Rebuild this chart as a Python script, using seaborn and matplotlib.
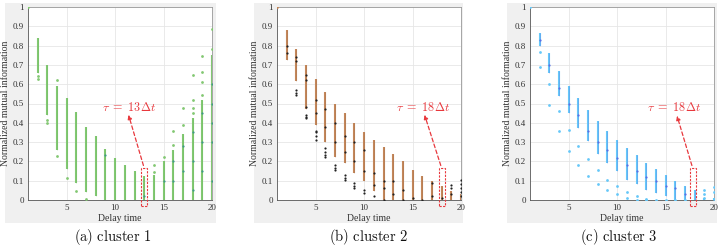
import numpy as np
import pandas as pd
import seaborn as sns
import matplotlib.pyplot as plt
from matplotlib.patches import Rectangle

# delay times for the dense strips
delays = list(range(2, 21))

# cluster 1: strip range per delay + separate dots
c1_lo = [0.66, 0.44, 0.26, 0.16, 0.09, 0.04, 0.02, 0, 0, 0, 0, 0, 0, 0, 0, 0, 0, 0, 0]
c1_hi = [0.84, 0.70, 0.59, 0.53, 0.455, 0.38, 0.33, 0.265, 0.22, 0.183, 0.15, 0.122,
         0.13, 0.20, 0.26, 0.34, 0.425, 0.52, 0.75]
c1_dot_x = [1, 2, 2, 3, 3, 4, 4, 5, 6, 7, 14, 14, 15, 16, 16, 17, 17, 18, 18, 18, 18,
            19, 19, 19, 19, 20, 20]
c1_dot_y = [1.0, 0.625, 0.64, 0.415, 0.40, 0.62, 0.23, 0.115, 0.045, 0.005, 0.18, 0.145,
            0.225, 0.355, 0.285, 0.475, 0.39, 0.65, 0.52, 0.475, 0.45,
            0.745, 0.665, 0.61, 0.545, 0.886, 0.78]
c1_dark_x = [9, 13, 15, 16, 16, 17, 17, 18, 18, 18, 19, 19, 19, 20, 20, 20, 20, 20]
c1_dark_y = [0.235, 0.02, 0.10, 0.20, 0.10, 0.28, 0.15, 0.35, 0.20, 0.05, 0.45, 0.30,
             0.15, 0.60, 0.50, 0.40, 0.30, 0.10]

# cluster 2
c2_lo = [0.727, 0.615, 0.47, 0.39, 0.30, 0.225, 0.19, 0.14, 0.097, 0.045, 0, 0, 0, 0, 0,
         0, 0, 0, 0]
c2_hi = [0.883, 0.78, 0.70, 0.627, 0.56, 0.50, 0.45, 0.40, 0.352, 0.31, 0.275, 0.238,
         0.20, 0.157, 0.122, 0.10, 0.07, 0.045, 0.03]
c2_dot_x = [1]
c2_dot_y = [1.0]
c2_dark_x = [2, 2, 3, 3, 3, 3, 3, 4, 4, 4, 4, 4, 4, 5, 5, 5, 5, 5, 5, 6, 6, 6, 6, 6, 6,
             7, 7, 7, 7, 7, 8, 8, 8, 8, 8, 9, 9, 9, 9, 9, 10, 10, 10, 10, 11, 11, 11,
             12, 12, 12, 13, 13, 14, 14, 15, 16, 17, 17, 18, 19, 19, 19,
             20, 20, 20, 20, 20]
c2_dark_y = [0.80, 0.76, 0.57, 0.555, 0.545, 0.74, 0.72, 0.48, 0.44, 0.43, 0.425, 0.62,
             0.65, 0.36, 0.35, 0.33, 0.31, 0.52, 0.45, 0.27, 0.25, 0.235, 0.225, 0.38,
             0.47, 0.18, 0.165, 0.157, 0.30, 0.40, 0.13, 0.115, 0.105, 0.25, 0.33,
             0.088, 0.075, 0.062, 0.20, 0.30, 0.053, 0.036, 0.15, 0.26, 0.019, 0.08,
             0.14, 0.06, 0.0, 0.10, 0.03, 0.10, 0.0, 0.05, 0.01, 0.0, 0.09, 0.02, 0.01,
             0.076, 0.06, 0.03, 0.105, 0.085, 0.06, 0.04, 0.02]

# cluster 3
c3_lo = [0.796, 0.658, 0.537, 0.45, 0.373, 0.304, 0.24, 0.192, 0.148, 0.105, 0.083,
         0.054, 0.036, 0.02, 0, 0, 0, 0, 0]
c3_hi = [0.865, 0.76, 0.667, 0.592, 0.527, 0.468, 0.408, 0.356, 0.31, 0.268, 0.231,
         0.192, 0.16, 0.131, 0.10, 0.074, 0.05, 0.01, 0.01]
c3_dot_x = [1, 2, 2, 3, 3, 4, 4, 5, 5, 6, 6, 7, 7, 8, 8, 9, 9, 10, 10, 11, 11, 12, 12,
            13, 13, 14, 15, 16, 17, 19, 19, 19, 20, 20, 20]
c3_dot_y = [1.0, 0.765, 0.69, 0.60, 0.49, 0.463, 0.356, 0.364, 0.256, 0.278, 0.181,
            0.211, 0.123, 0.157, 0.083, 0.105, 0.05, 0.07, 0.031, 0.041, 0.012, 0.021,
            0.0, 0.005, 0.0, 0.0, 0.0, 0.0, 0.0, 0.054, 0.03, 0.01, 0.065, 0.04, 0.007]
c3_dark_x = [2, 3, 4, 5, 6, 7, 8, 9, 10, 11, 12, 13, 14, 15, 16, 17]
c3_dark_y = [0.83, 0.70, 0.58, 0.50, 0.44, 0.36, 0.30, 0.26, 0.22, 0.18, 0.15, 0.12,
             0.10, 0.07, 0.06, 0.03]

captions = ["(a)\\ cluster\\ 1", "(b)\\ cluster\\ 2", "(c)\\ cluster\\ 3"]
tau_labels = [r"$\tau\ =\ 13\Delta t$", r"$\tau\ =\ 18\Delta t$", r"$\tau\ =\ 18\Delta t$"]
tau_delay = [13, 18, 17.8]
tau_text = [(11.45, 0.48), (16.1, 0.48), (15.9, 0.48)]
tau_tip = [(11.3, 0.455), (16.15, 0.455), (16.1, 0.45)]

clusters = [
    (c1_lo, c1_hi, c1_dot_x, c1_dot_y, c1_dark_x, c1_dark_y, "#82c872", "#3f9a86", "#68b85c"),
    (c2_lo, c2_hi, c2_dot_x, c2_dot_y, c2_dark_x, c2_dark_y, "#c4875a", "#222222", "#9a6a48"),
    (c3_lo, c3_hi, c3_dot_x, c3_dot_y, c3_dark_x, c3_dark_y, "#66c8f8", "#5a70e6", "#5a70e6"),
]

sns.set_theme(style="whitegrid")
plt.rcParams["font.family"] = ["Liberation Serif", "DejaVu Serif"]
plt.rcParams["mathtext.fontset"] = "cm"

fig = plt.figure(figsize=(7.23, 2.46), dpi=100)
W, H = 723, 246

grey_boxes = [(5, 211), (254, 209), (507, 210)]
ax_left = [28, 277, 530]
cap_x = [113, 368, 619]

for gx, gw in grey_boxes:
    fig.patches.append(Rectangle((gx / W, 23 / H), gw / W, 220 / H, transform=fig.transFigure,
                                 facecolor="#f0f0f0", edgecolor="none", zorder=-5))

for i, (lo, hi, dx, dy, kx, ky, col, dark, core) in enumerate(clusters):
    ax = fig.add_axes([ax_left[i] / W, 46 / H, 184 / W, 193 / H])
    ax.set_zorder(2)
    ax.set_facecolor("white")
    ax.vlines(delays, lo, hi, colors=col, linewidth=1.5, zorder=2)
    ax.vlines(delays, lo, hi, colors=core, linewidth=0.4, alpha=0.5, zorder=2)
    sns.scatterplot(x=dx, y=dy, ax=ax, color=col, s=4, linewidth=0, zorder=3)
    sns.scatterplot(x=kx, y=ky, ax=ax, color=dark, s=2.5, linewidth=0, zorder=4)

    ax.set_xlim(1, 20)
    ax.set_ylim(0, 1)
    ax.set_xticks([5, 10, 15, 20])
    ax.set_yticks(np.round(np.arange(0, 1.01, 0.1), 1))
    ax.set_yticklabels(["0", "0.1", "0.2", "0.3", "0.4", "0.5", "0.6", "0.7", "0.8", "0.9", "1"])
    ax.grid(True, color="#e6e6e6", linewidth=0.6)
    ax.tick_params(labelsize=6.5, colors="#333333", length=0, pad=3)
    for s in ax.spines.values():
        s.set_color("#999999")
        s.set_linewidth(0.6)
    ax.spines["left"].set_color("#555555")
    ax.spines["bottom"].set_color("#555555")
    ax.set_xlabel("Delay time", fontsize=7, color="#333333", labelpad=1)
    ax.set_ylabel("Normalized mutual information", fontsize=7, color="#333333", labelpad=2)

    # highlighted delay
    td = tau_delay[i]
    ax.add_patch(Rectangle((td - 0.32, -0.03), 0.64, 0.195, fill=False, edgecolor="#e8383d",
                           linestyle=(0, (2, 1.2)), linewidth=0.8, clip_on=False, zorder=5))
    ax.annotate("", xy=tau_tip[i], xytext=(td, 0.165),
                arrowprops=dict(arrowstyle="-|>", color="#e8383d", lw=0.9,
                                linestyle=(0, (3, 2)), mutation_scale=6))
    ax.text(tau_text[i][0], tau_text[i][1], tau_labels[i], color="#e8383d", fontsize=8.7,
            ha="center", va="center")

    fig.text(cap_x[i] / W, 9 / H, "$\\mathrm{" + captions[i] + "}$", fontsize=10.5,
             ha="center", va="center", color="#111111")

fig.savefig("out.png", dpi=100)
